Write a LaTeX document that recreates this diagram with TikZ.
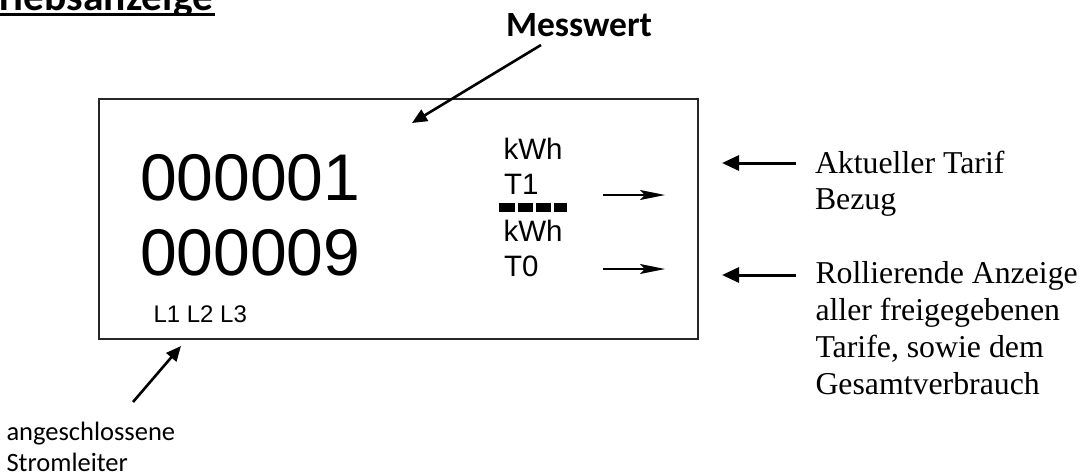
\documentclass[tikz,border=0pt]{standalone}
\usepackage{fontspec}
\setmainfont{Liberation Serif}
\newfontfamily\arialf{Liberation Sans}
\newfontfamily\calf{Carlito}
\usetikzlibrary{arrows.meta}
\begin{document}
\begin{tikzpicture}[x=1pt,y=-1pt,
  txt/.style={anchor=base west,inner sep=0pt,outer sep=0pt},
  digits/.style={txt,font=\arialf\fontsize{66}{66}\selectfont},
  unit/.style={txt,font=\arialf\fontsize{29.5}{29.5}\selectfont},
  serifnote/.style={txt,font=\fontsize{31.8}{31.8}\selectfont},
  calnote/.style={txt,font=\calf\fontsize{26.5}{26.5}\selectfont},
  pointer/.style={line width=2.6pt,-{Triangle[length=15pt,width=13pt]}},
  smallarrow/.style={line width=1.5pt,-{Stealth[length=25pt,width=10pt,inset=5pt]}},
  leftarrow/.style={line width=3pt,-{Triangle[length=17pt,width=15pt]}}]
\useasboundingbox (0,0) rectangle (1081,475);
% title (cut off at top)
\begin{scope}
  \clip (0,0) rectangle (300,12.8);
  \node[txt,font=\calf\bfseries\fontsize{41.5}{41.5}\selectfont] (title) at (-1,10.5) {riebsanzeige};
\end{scope}
\fill (0,12.8) rectangle (215,15.6);
% display box
\draw[line width=1.8pt,black!85] (99,99) rectangle (698,339);
% readings
\node[digits] (r1) at (140,200) {000001};
\node[digits] (r2) at (140,275) {000009};
\node[txt,font=\arialf\fontsize{24}{24}\selectfont] (lines) at (153.5,322) {L1 L2 L3};
\node[unit] (u1) at (503.5,159) {kWh};
\node[unit] (t1) at (504,194) {T1};
\node[unit] (u2) at (503.5,241) {kWh};
\node[unit] (t0) at (504,276) {T0};
\foreach \a/\b in {499/515,517.5/533,535.5/551,553.5/567}
  \fill (\a,203) rectangle (\b,212);
% arrows inside box
\coordinate (a1s) at (603,195); \coordinate (a1e) at (665,195);
\coordinate (a0s) at (603,269); \coordinate (a0e) at (665,269);
\draw[smallarrow] (a1s) -- (a1e);
\draw[smallarrow] (a0s) -- (a0e);
% Messwert
\node[txt,font=\calf\bfseries\fontsize{35.5}{35.5}\selectfont] (mw) at (506,36) {Messwert};
\coordinate (mws) at (541,45); \coordinate (mwe) at (412,123);
\draw[pointer] (mws) -- (mwe);
% right notes
\node[serifnote] (akt) at (815,173) {Aktueller Tarif};
\node[serifnote] (bez) at (815,209) {Bezug};
\node[serifnote] (rol1) at (815.5,283) {Rollierende Anzeige};
\node[serifnote] (rol2) at (815.5,320) {aller freigegebenen};
\node[serifnote] (rol3) at (815.5,357) {Tarife, sowie dem};
\node[serifnote] (rol4) at (815.5,394) {Gesamtverbrauch};
\coordinate (la1s) at (796,163); \coordinate (la1e) at (722,163);
\coordinate (la2s) at (796,275); \coordinate (la2e) at (722,275);
\draw[leftarrow] (la1s) -- (la1e);
\draw[leftarrow] (la2s) -- (la2e);
% bottom left
\node[calnote] (ang) at (6.5,440) {angeschlossene};
\node[calnote] (str) at (6.5,471.5) {Stromleiter};
\coordinate (las) at (133,402); \coordinate (lae) at (181,346);
\draw[pointer] (las) -- (lae);
\end{tikzpicture}
\end{document}
